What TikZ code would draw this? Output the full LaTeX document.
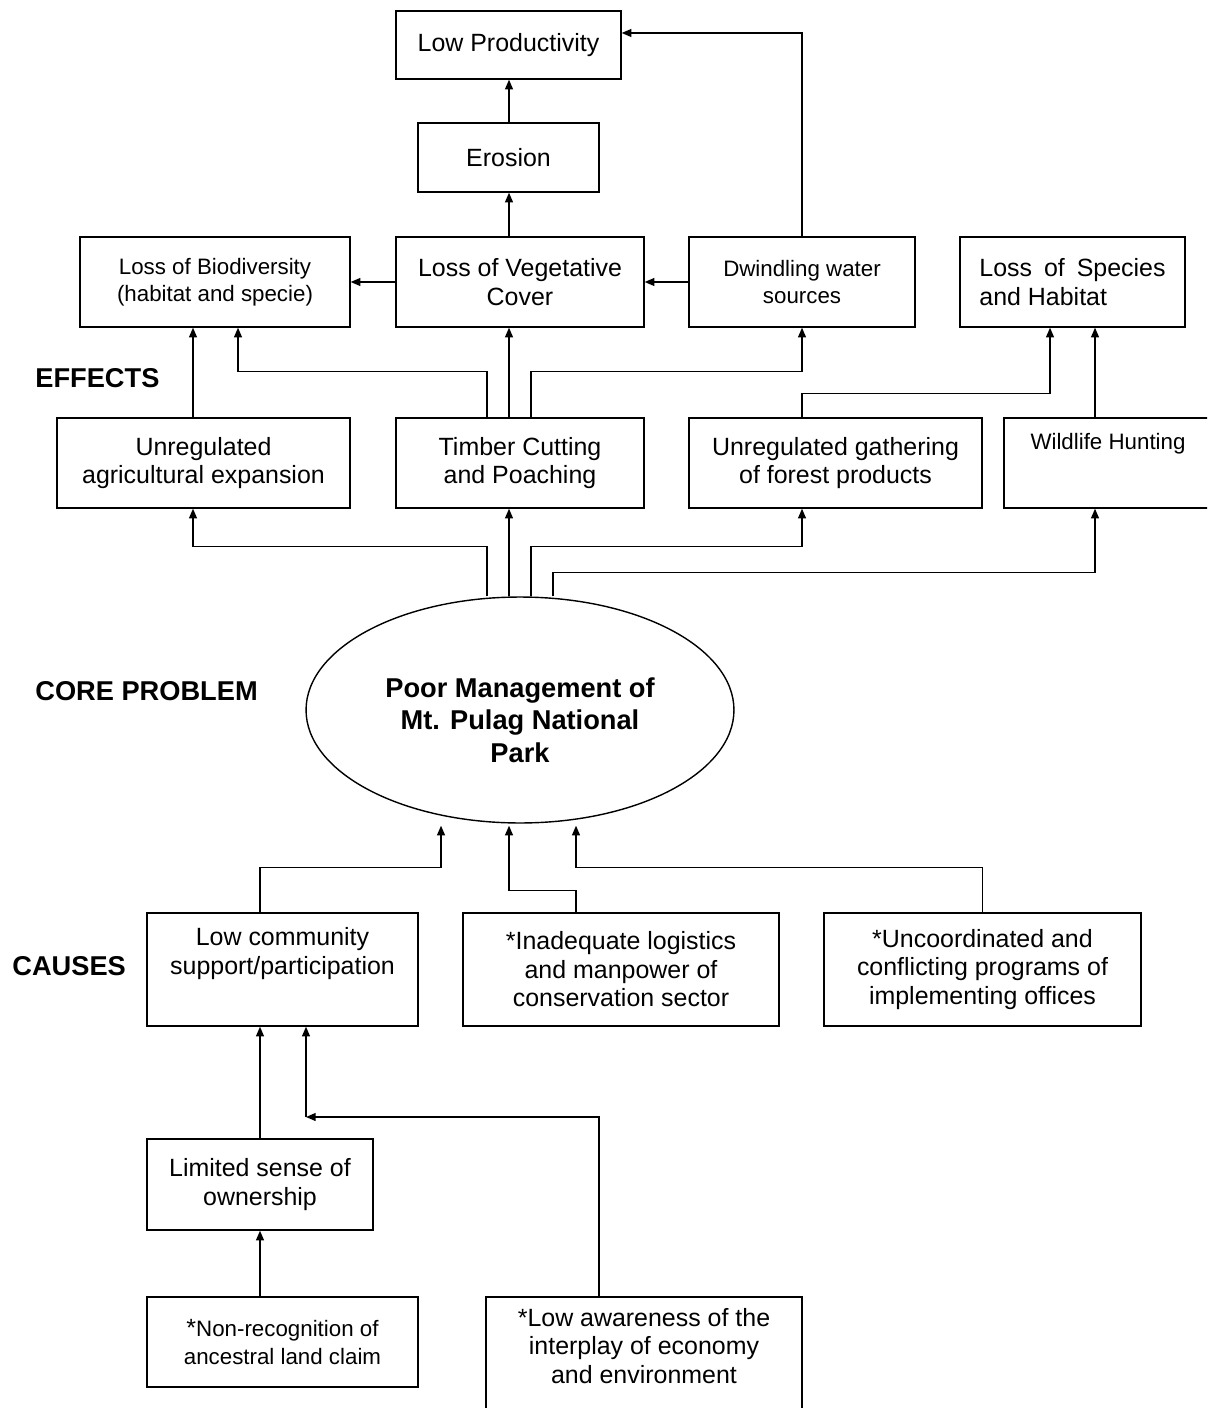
\documentclass[tikz,border=0pt]{standalone}
\usepackage{fontspec}
\setmainfont{Liberation Sans}
\usetikzlibrary{arrows.meta,shapes.geometric}
\begin{document}
\begin{tikzpicture}[x=0.02cm,y=-0.02cm,
  box/.style={draw,line width=0.8pt,align=center,inner sep=0pt,font=\fontsize{14.2}{16.2}\selectfont},
  small/.style={font=\fontsize{12.7}{15.4}\selectfont},
  head/.style={font=\fontsize{15.5}{18.5}\selectfont\bfseries},
  arr/.style={-{Triangle[length=5.5pt,width=4.5pt]},line width=0.8pt}]
  \clip (0,0) rectangle (1207,1408);
  % lanes
  \coordinate (la) at (487,0); \coordinate (lb) at (509,0); \coordinate (lc) at (531,0); \coordinate (ld) at (553,0);
  \coordinate (ag) at (193,0); \coordinate (bd) at (238,0); \coordinate (sp) at (1050,0); \coordinate (hu) at (1095,0);
  \coordinate (ca) at (441,0); \coordinate (cc) at (576,0); \coordinate (cm) at (260,0); \coordinate (aw) at (599,0);
  \coordinate (jn) at (306,1117);

  \node[box,minimum width=4.5cm,minimum height=1.36cm] (lowprod) at (508.5,45) {Low Productivity};
  \node[box,minimum width=3.62cm,minimum height=1.38cm] (erosion) at (508.5,157.5) {Erosion};
  \node[box,minimum width=4.96cm,minimum height=1.8cm] (vegcov) at (520,282) {Loss of Vegetative\\Cover};
  \node[box,small,minimum width=4.52cm,minimum height=1.8cm] (dwindle) at (802,282) {Dwindling water\\sources};
  \node[box,small,minimum width=5.4cm,minimum height=1.8cm] (biodiv) at (215,282) {Loss of Biodiversity\\(habitat and specie)};
  \node[box,align=left,minimum width=4.5cm,minimum height=1.8cm] (species) at (1072.5,282) {Loss\hspace{0.1cm} of\hspace{0.1cm} Species\\and Habitat};

  \node[box,minimum width=5.86cm,minimum height=1.8cm] (agric) at (203.5,463) {Unregulated\\agricultural expansion};
  \node[box,minimum width=4.96cm,minimum height=1.8cm] (timber) at (520,463) {Timber Cutting\\and Poaching};
  \node[box,minimum width=5.86cm,minimum height=1.8cm] (gather) at (835.5,463) {Unregulated gathering\\of forest products};
  \node[box,small,minimum width=4.16cm,minimum height=1.8cm] (hunting) at (1108,463) {Wildlife Hunting\\[4pt]\strut};

  \node[draw,ellipse,line width=0.8pt,inner sep=0pt,minimum width=8.56cm,minimum height=4.52cm,align=center,head] (core) at (520,710)
    {\mbox{}\\[4pt]Poor Management of\\Mt. Pulag National\\Park};

  \node[box,minimum width=5.42cm,minimum height=2.26cm] (comm) at (282.5,969.5) {Low community\\support/participation\\\strut};
  \node[box,minimum width=6.32cm,minimum height=2.26cm] (inadeq) at (621,969.5) {*Inadequate logistics\\and manpower of\\conservation sector};
  \node[box,minimum width=6.34cm,minimum height=2.26cm] (uncoord) at (982.5,969.5) {*Uncoordinated and\\conflicting programs of\\implementing offices};
  \node[box,minimum width=4.52cm,minimum height=1.82cm] (limited) at (260,1184.5) {Limited sense of\\ownership};
  \node[box,small,minimum width=5.42cm,minimum height=1.8cm] (nonrec) at (282.5,1342) {{\fontsize{14.2}{16.2}\selectfont *}Non-recognition of\\ancestral land claim};
  \node[box,minimum width=6.32cm,minimum height=2.68cm] (aware) at (644,1364) {*Low awareness of the\\interplay of economy\\and environment\\\strut};

  \node[head,anchor=west,inner sep=0pt] (effects) at (35,378) {EFFECTS};
  \node[head,anchor=west,inner sep=0pt] (coreprob) at (35,691) {CORE PROBLEM};
  \node[head,anchor=west,inner sep=0pt] (causes) at (12,966) {CAUSES};

  \draw[arr] (core.north -| la) -- ++(0,-50) -| (agric.south -| ag);
  \draw[arr] (core.north -| lb) -- (timber.south -| lb);
  \draw[arr] (core.north -| lc) -- ++(0,-50) -| (gather.south -| dwindle);
  \draw[arr] (core.north -| ld) -- ++(0,-24) -| (hunting.south -| hu);

  \draw[arr] (agric.north -| ag) -- (biodiv.south -| ag);
  \draw[arr] (timber.north -| la) -- ++(0,-46) -| (biodiv.south -| bd);
  \draw[arr] (timber.north -| lb) -- (vegcov.south -| lb);
  \draw[arr] (timber.north -| lc) -- ++(0,-46) -| (dwindle.south);
  \draw[arr] (gather.north -| dwindle) -- ++(0,-24) -| (species.south -| sp);
  \draw[arr] (hunting.north -| hu) -- (species.south -| hu);

  \draw[arr] (vegcov.west) -- (biodiv.east);
  \draw[arr] (dwindle.west) -- (vegcov.east);
  \draw[arr] (vegcov.north -| lb) -- (erosion.south -| lb);
  \draw[arr] (erosion.north -| lb) -- (lowprod.south -| lb);
  \draw[arr] (dwindle.north) |- ([yshift=0.24cm]lowprod.east);

  \draw[arr] (comm.north -| cm) -- ++(0,-45) -| ([yshift=-0.04cm]core.south -| ca);
  \draw[arr] (inadeq.north -| cc) -- ++(0,-22) -| ([yshift=-0.04cm]core.south -| lb);
  \draw[arr] (uncoord.north) -- ++(0,-45) -| ([yshift=-0.04cm]core.south -| cc);
  \draw[arr] (limited.north -| cm) -- (comm.south -| cm);
  \draw[arr] (nonrec.north -| cm) -- (limited.south -| cm);
  \draw[arr] (aware.north -| aw) |- (jn);
  \draw[arr] (jn) -- (comm.south -| jn);
\end{tikzpicture}
\end{document}
